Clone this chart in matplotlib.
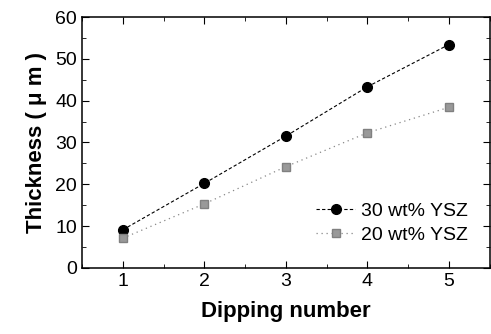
import matplotlib
matplotlib.use("Agg")
import matplotlib.pyplot as plt
from matplotlib.ticker import MultipleLocator

plt.rcParams["font.family"] = ["Liberation Sans", "DejaVu Sans"]

dips = [1, 2, 3, 4, 5]
ysz30 = [9.1, 20.2, 31.5, 43.3, 53.4]
ysz20 = [7.1, 15.3, 24.2, 32.3, 38.4]

fig = plt.figure(figsize=(4.91, 3.34), dpi=100)
ax = fig.add_axes([0.167, 0.198, 0.83, 0.751])

ax.plot(dips, ysz30, color="black", ls=(0, (3, 2)), lw=0.8, marker="o", ms=7,
        label="30 wt% YSZ")
ax.plot(dips, ysz20, color="#888888", ls=(0, (1, 3)), lw=0.9, marker="s", ms=6,
        mfc="#999999", mec="#808080", label="20 wt% YSZ")

ax.set_xlim(0.5, 5.5)
ax.set_ylim(0, 60)
ax.xaxis.set_major_locator(MultipleLocator(1))
ax.xaxis.set_minor_locator(MultipleLocator(0.5))
ax.yaxis.set_major_locator(MultipleLocator(10))
ax.yaxis.set_minor_locator(MultipleLocator(5))
ax.tick_params(which="both", direction="in", top=True, right=True, labelsize=14)
ax.tick_params(which="major", length=5)
ax.tick_params(which="minor", length=3)
for s in ax.spines.values():
    s.set_linewidth(1.1)

ax.set_xlabel("Dipping number", fontsize=16, fontweight="bold", labelpad=8)
ax.set_ylabel("Thickness ( μ m )", fontsize=16, fontweight="bold", labelpad=6)

ax.legend(loc="lower right", frameon=False, fontsize=14, handlelength=2.0,
          handletextpad=0.3, borderaxespad=0.2, labelspacing=0.3,
          bbox_to_anchor=(0.975, 0.05))

fig.savefig("out.png", dpi=100)
